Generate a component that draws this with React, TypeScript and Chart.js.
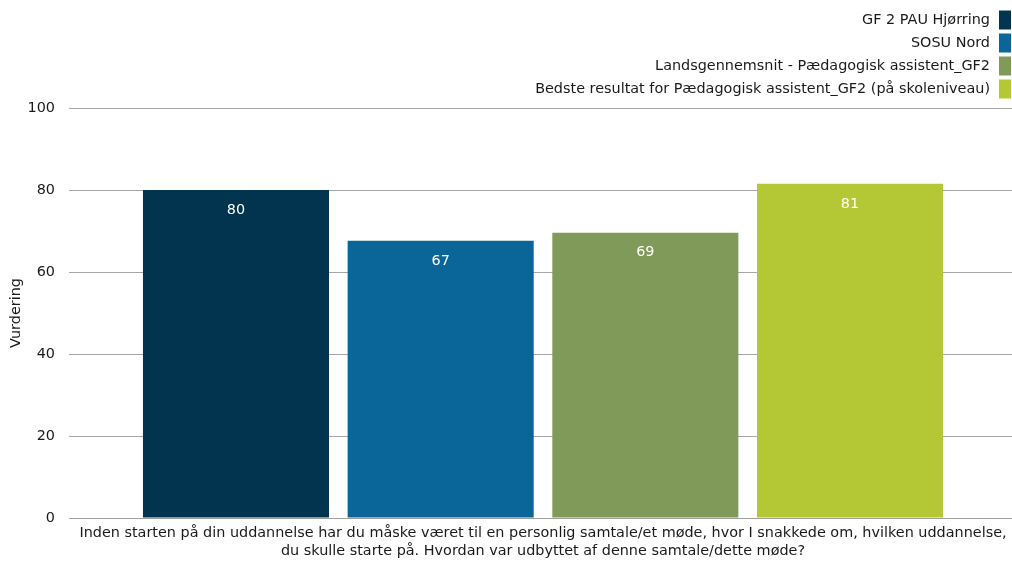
import React, { useEffect, useRef } from "react";
import { Chart, registerables } from "chart.js";

Chart.register(...registerables);

const categories: string[][] = [[
  "Inden starten på din uddannelse har du måske været til en personlig samtale/et møde, hvor I snakkede om, hvilken uddannelse,",
  "du skulle starte på. Hvordan var udbyttet af denne samtale/dette møde?",
]];
const seriesNames = [
  "GF 2 PAU Hjørring",
  "SOSU Nord",
  "Landsgennemsnit - Pædagogisk assistent_GF2",
  "Bedste resultat for Pædagogisk assistent_GF2 (på skoleniveau)",
];
const seriesValues = [80, 67.6, 69.6, 81.5];
const seriesLabels = ["80", "67", "69", "81"];
const seriesColors = ["#02344f", "#0a6699", "#809a59", "#b4c835"];
const yTicks = [0, 20, 40, 60, 80, 100];

const FONT = "'DejaVu Sans', Verdana, sans-serif";
const FS = 14.4;

const legendPlugin = {
  id: "customLegend",
  afterDraw(chart: any) {
    const ctx = chart.ctx;
    ctx.save();
    ctx.font = `${FS}px ${FONT}`;
    ctx.textAlign = "right";
    ctx.textBaseline = "middle";
    const right = 1011;
    seriesNames.forEach((name, i) => {
      const top = 10.5 + i * 23;
      ctx.fillStyle = seriesColors[i];
      ctx.fillRect(right - 12, top, 12, 19);
      ctx.fillStyle = "#1a1a1a";
      ctx.fillText(name, right - 21, top + 9.5);
    });
    ctx.restore();
  },
};

const valueLabelPlugin = {
  id: "valueLabels",
  afterDatasetsDraw(chart: any) {
    const ctx = chart.ctx;
    ctx.save();
    ctx.font = `${FS}px ${FONT}`;
    ctx.fillStyle = "#ffffff";
    ctx.textAlign = "center";
    ctx.textBaseline = "middle";
    chart.data.datasets.forEach((ds: any, i: number) => {
      const meta = chart.getDatasetMeta(i);
      meta.data.forEach((el: any) => {
        ctx.fillText(seriesLabels[i], el.x, el.y + 20);
      });
    });
    ctx.restore();
  },
};

export default function App() {
  const ref = useRef<HTMLCanvasElement>(null);
  useEffect(() => {
    document.body.style.margin = "0";
    document.body.style.overflow = "hidden";
    const chart = new Chart(ref.current!, {
      type: "bar",
      data: {
        labels: categories,
        datasets: seriesNames.map((name, i) => ({
          label: name,
          data: [seriesValues[i]],
          backgroundColor: seriesColors[i],
          barPercentage: 0.909,
          categoryPercentage: 0.8636,
        })),
      },
      options: {
        animation: false,
        responsive: false,
        layout: { padding: { top: 108, right: 0, left: 0, bottom: 0 } },
        plugins: {
          legend: { display: false },
          tooltip: { enabled: false },
        },
        scales: {
          x: {
            afterFit: (axis: any) => {
              axis.height = 45;
              axis.paddingLeft = 0;
              axis.paddingRight = 0;
            },
            grid: { display: false, drawTicks: false },
            border: { display: true, color: "#a0a0a0" },
            ticks: {
              color: "#1a1a1a",
              font: { family: FONT, size: FS, lineHeight: 1.25 },
              padding: 6,
              maxRotation: 0,
              autoSkip: false,
            },
          },
          y: {
            min: 0,
            max: 100,
            afterBuildTicks: (axis: any) => {
              axis.ticks = yTicks.map((v) => ({ value: v }));
            },
            afterFit: (axis: any) => {
              axis.width = 69;
              axis.paddingTop = 0;
              axis.paddingBottom = 0;
            },
            grid: { color: "#a6a6a6", drawTicks: false },
            border: { display: false },
            ticks: {
              color: "#1a1a1a",
              font: { family: FONT, size: FS },
              padding: 14,
            },
            title: {
              display: true,
              text: "Vurdering",
              color: "#1a1a1a",
              font: { family: FONT, size: FS },
              padding: { top: 8, bottom: 3 },
            },
          },
        },
      },
      plugins: [legendPlugin, valueLabelPlugin],
    });
    return () => chart.destroy();
  }, []);
  return (
    <div style={{ width: 1012, height: 563, overflow: "hidden" }}>
      <canvas ref={ref} width={1017} height={563} style={{ display: "block" }} />
    </div>
  );
}
